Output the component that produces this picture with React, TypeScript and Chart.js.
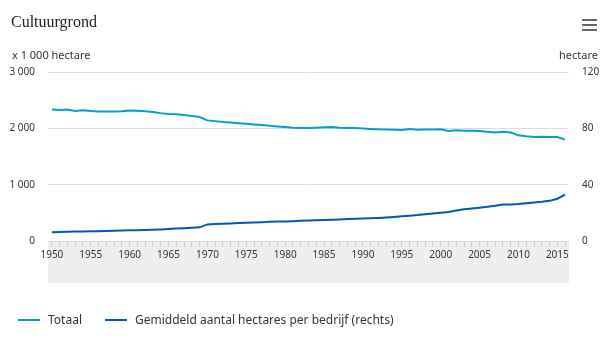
import React, { useEffect, useRef } from "react";
import { Chart, registerables } from "chart.js";

Chart.register(...registerables);

const years: number[] = [];
for (let y = 1950; y <= 2016; y++) years.push(y);

// Totaal cultuurgrond, x 1 000 hectare
const totaal: number[] = [
  2336, 2324, 2334, 2306, 2322, 2306, 2300, 2300, 2300, 2304,
  2316, 2312, 2304, 2290, 2270, 2255, 2248, 2236, 2220, 2200,
  2141, 2128, 2114, 2102, 2092, 2082, 2070, 2058, 2046, 2034,
  2023, 2012, 2005, 2005, 2010, 2018, 2022, 2012, 2008, 2004,
  1998, 1990, 1982, 1978, 1974, 1972, 1988, 1976, 1980, 1980,
  1982, 1953, 1966, 1956, 1956, 1953, 1940, 1926, 1938, 1926,
  1876, 1858, 1847, 1850, 1844, 1847, 1800,
];

// Gemiddeld aantal hectares per bedrijf (rechts)
const gemiddeld: number[] = [
  6.2, 6.4, 6.6, 6.7, 6.8, 6.9, 7.0, 7.1, 7.2, 7.4,
  7.6, 7.7, 7.8, 8.0, 8.2, 8.5, 8.8, 9.1, 9.4, 9.7,
  11.8, 12.1, 12.3, 12.5, 12.8, 13.0, 13.2, 13.4, 13.6, 13.8,
  13.9, 14.1, 14.3, 14.5, 14.7, 14.9, 15.1, 15.3, 15.6, 15.8,
  16.0, 16.2, 16.4, 16.7, 17.1, 17.6, 18.0, 18.4, 19.0, 19.5,
  20.0, 20.6, 21.6, 22.5, 23.0, 23.6, 24.3, 25.0, 25.9, 26.0,
  26.2, 26.8, 27.3, 27.8, 28.5, 30.0, 33.0,
];

const leftTicks = [0, 1000, 2000, 3000];
const rightTicks = [0, 40, 80, 120];

const LIGHT = "#00a1cd";
const DARK = "#0058b8";
const FONT = "'Noto Sans', sans-serif";

function fmt(n: number): string {
  return String(n).replace(/\B(?=(\d{3})+(?!\d))/g, " ");
}

const bandPlugin = {
  id: "band",
  beforeDraw(chart: any) {
    const { ctx, chartArea } = chart;
    ctx.save();
    ctx.fillStyle = "#efefef";
    ctx.fillRect(chartArea.left, chartArea.bottom, chartArea.right - chartArea.left, 42);
    ctx.strokeStyle = "#cfcfcf";
    ctx.lineWidth = 1;
    ctx.beginPath();
    ctx.moveTo(chartArea.left, chartArea.bottom + 0.5);
    ctx.lineTo(chartArea.right, chartArea.bottom + 0.5);
    ctx.stroke();
    ctx.restore();
  },
};

export default function App() {
  const ref = useRef<HTMLCanvasElement | null>(null);

  useEffect(() => {
    document.body.style.margin = "0";
    if (!ref.current) return;
    const chart = new Chart(ref.current, {
      type: "line",
      data: {
        labels: years,
        datasets: [
          {
            label: "Totaal",
            data: years.map((y, i) => ({ x: y, y: totaal[i] })),
            borderColor: LIGHT,
            backgroundColor: LIGHT,
            borderWidth: 2,
            pointRadius: 0,
            tension: 0,
            yAxisID: "y",
          },
          {
            label: "Gemiddeld aantal hectares per bedrijf (rechts)",
            data: years.map((y, i) => ({ x: y, y: gemiddeld[i] })),
            borderColor: DARK,
            backgroundColor: DARK,
            borderWidth: 2,
            pointRadius: 0,
            tension: 0,
            yAxisID: "y1",
          },
        ],
      },
      plugins: [bandPlugin],
      options: {
        animation: false,
        responsive: false,
        maintainAspectRatio: false,
        layout: { padding: { top: 72, bottom: 62, left: 0, right: 0 } },
        plugins: {
          legend: { display: false },
          tooltip: { enabled: false },
        },
        scales: {
          x: {
            type: "linear",
            min: 1949.5,
            max: 2016.5,
            afterBuildTicks: (scale: any) => {
              scale.ticks = years.map((v) => ({ value: v }));
            },
            afterFit: (scale: any) => {
              scale.height = 42;
            },
            ticks: {
              autoSkip: false,
              maxRotation: 0,
              padding: 2,
              color: "#333",
              font: { family: FONT, size: 10 },
              callback: (v: any) => (Number(v) % 5 === 0 ? String(v) : ""),
            },
            grid: {
              drawOnChartArea: false,
              drawTicks: true,
              tickLength: 6,
              color: "#cfcfcf",
            },
            border: { display: false },
          },
          y: {
            position: "left",
            min: 0,
            max: 3000,
            afterBuildTicks: (scale: any) => {
              scale.ticks = leftTicks.map((v) => ({ value: v }));
            },
            afterFit: (scale: any) => {
              scale.width = 48;
            },
            ticks: {
              padding: 13,
              color: "#333",
              font: { family: FONT, size: 10 },
              callback: (v: any) => fmt(Number(v)),
            },
            grid: { color: "#dcdcdc", drawTicks: false, lineWidth: 1 },
            border: { display: false },
          },
          y1: {
            position: "right",
            min: 0,
            max: 120,
            afterBuildTicks: (scale: any) => {
              scale.ticks = rightTicks.map((v) => ({ value: v }));
            },
            afterFit: (scale: any) => {
              scale.width = 36;
            },
            ticks: {
              padding: 13,
              color: "#333",
              font: { family: FONT, size: 10 },
            },
            grid: { drawOnChartArea: false, drawTicks: false },
            border: { display: false },
          },
        },
      },
    } as any);
    return () => chart.destroy();
  }, []);

  const txt: React.CSSProperties = {
    position: "absolute",
    fontFamily: FONT,
    fontSize: 11,
    color: "#333",
    whiteSpace: "nowrap",
    lineHeight: "16px",
  };

  return (
    <div style={{ position: "fixed", left: 0, top: 0, width: 605, height: 345, background: "#fff", overflow: "hidden" }}>
      <canvas ref={ref} width={605} height={345} style={{ position: "absolute", left: 0, top: 0, width: 605, height: 345 }} />
      <div style={{ position: "absolute", left: 11, top: 11, fontFamily: "'Liberation Serif', serif", fontSize: 16, color: "#222", lineHeight: "22px" }}>
        Cultuurgrond
      </div>
      {[20, 25, 30].map((t) => (
        <div key={t} style={{ position: "absolute", left: 582, top: t - 1, width: 15, height: 2, background: "#666" }} />
      ))}
      <div style={{ ...txt, left: 12, top: 47 }}>x 1 000 hectare</div>
      <div style={{ ...txt, right: 7, top: 47 }}>hectare</div>
      <div style={{ position: "absolute", left: 18, top: 319, width: 22, height: 2, background: LIGHT }} />
      <div style={{ ...txt, left: 48, top: 312, fontSize: 12 }}>Totaal</div>
      <div style={{ position: "absolute", left: 105, top: 319, width: 22, height: 2, background: DARK }} />
      <div style={{ ...txt, left: 135, top: 312, fontSize: 12 }}>Gemiddeld aantal hectares per bedrijf (rechts)</div>
    </div>
  );
}
